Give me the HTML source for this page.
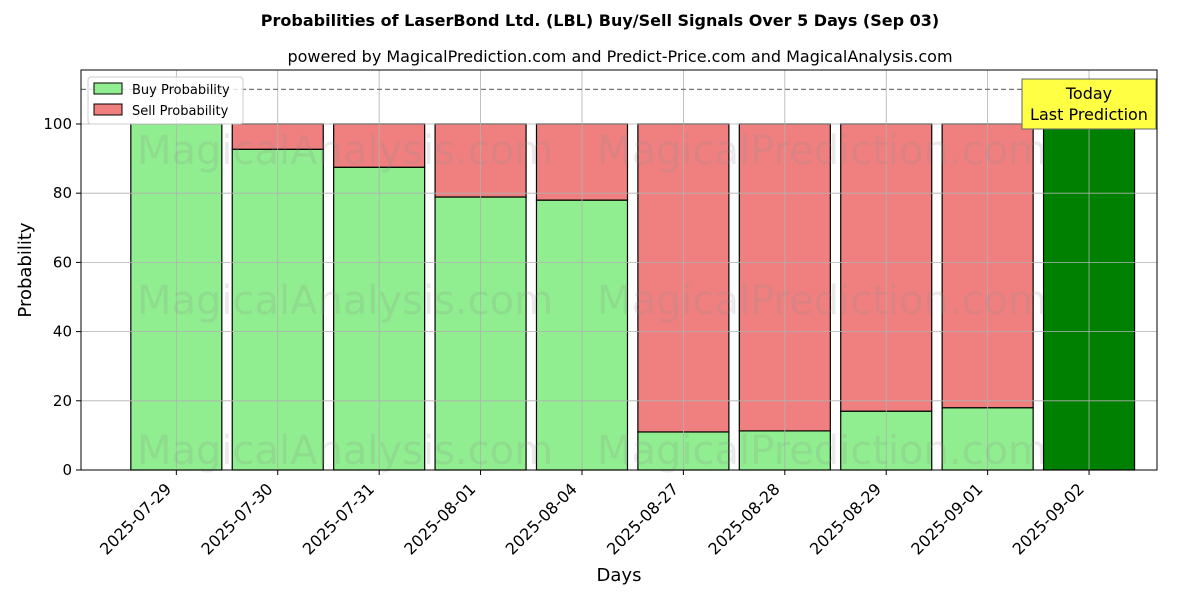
<!DOCTYPE html>
<html><head><meta charset="utf-8"><style>
body{margin:0;background:#fff;font-family:"Liberation Sans","DejaVu Sans",sans-serif;}
</style></head><body>
<svg id="chart" width="1200" height="600" xmlns="http://www.w3.org/2000/svg" font-family="DejaVu Sans, Liberation Sans, sans-serif">
<rect width="1200" height="600" fill="#fff"/>
<text x="600" y="26" text-anchor="middle" font-size="16" font-weight="bold">Probabilities of LaserBond Ltd. (LBL) Buy/Sell Signals Over 5 Days (Sep 03)</text>
<text x="620" y="62" text-anchor="middle" font-size="16">powered by MagicalPrediction.com and Predict-Price.com and MagicalAnalysis.com</text>
<g id="bars"></g><g id="grid"></g><g id="wm"></g>
<rect x="81" y="70" width="1076" height="400" fill="none" stroke="#000"/>
<g id="axes"></g>
<text transform="translate(31,270) rotate(-90)" text-anchor="middle" font-size="18">Probability</text>
<text x="619" y="581" text-anchor="middle" font-size="18">Days</text>
<g>
<rect x="88" y="77" width="155" height="47" fill="#fff" fill-opacity="0.8" stroke="#ccc" rx="3"/>
<rect x="94" y="83" width="28" height="11" fill="#90ee90" stroke="#000"/>
<text x="132" y="94" font-size="13">Buy Probability</text>
<rect x="94" y="104" width="28" height="11" fill="#f08080" stroke="#000"/>
<text x="132" y="115" font-size="13">Sell Probability</text>
</g>
<g>
<rect x="1022" y="79" width="134" height="50" fill="#ffff44" stroke="#666"/>
<text x="1089" y="99" text-anchor="middle" font-size="16">Today</text>
<text x="1089" y="120" text-anchor="middle" font-size="16">Last Prediction</text>
</g>
</svg>
<script>
const categories=["2025-07-29","2025-07-30","2025-07-31","2025-08-01","2025-08-04","2025-08-27","2025-08-28","2025-08-29","2025-09-01","2025-09-02"];
const buyValues=[100,92.7,87.5,78.9,78,11,11.3,17,18,100];
const sellValues=[0,7.3,12.5,21.1,22,89,88.7,83,82,0];
const yTicks=[0,20,40,60,80,100];
const ns="http://www.w3.org/2000/svg";
const L=81,R=1157,T=70,B=470,xmin=-0.94,xmax=9.67,ymax=115.6;
const xs=i=>L+(i-xmin)/(xmax-xmin)*(R-L);
const ys=v=>B-v/ymax*(B-T);
const bw=(91/101.4);
function mk(p,t,a){const e=document.createElementNS(ns,t);for(const k in a)e.setAttribute(k,a[k]);document.getElementById(p).appendChild(e);return e;}
yTicks.forEach(v=>{
 const l=mk('grid','line',{x1:L,x2:R,y1:ys(v),y2:ys(v),stroke:'#b0b0b0','stroke-width':0.8});
 
 mk('axes','line',{x1:L-5,x2:L,y1:ys(v),y2:ys(v),stroke:'#000'});
 const t=mk('axes','text',{x:L-9,y:ys(v)+5,'text-anchor':'end','font-size':15});t.textContent=v;
 
});
categories.forEach((c,i)=>{
 const x=xs(i);
 const g=mk('grid','line',{x1:x,x2:x,y1:T,y2:B,stroke:'#b0b0b0','stroke-width':0.8});
 
 const w=bw*(xs(1)-xs(0));
 const last=i===categories.length-1;
 const b=mk('bars','rect',{x:x-w/2,y:ys(buyValues[i]),width:w,height:ys(0)-ys(buyValues[i]),fill:last?'#008000':'#90ee90',stroke:'#000','stroke-width':1.2});
 
 if(sellValues[i]>0){
  const s=mk('bars','rect',{x:x-w/2,y:ys(buyValues[i]+sellValues[i]),width:w,height:ys(buyValues[i])-ys(buyValues[i]+sellValues[i]),fill:'#f08080',stroke:'#000','stroke-width':1.2});
  
 }
 mk('axes','line',{x1:x,x2:x,y1:B,y2:B+5,stroke:'#000'});
 const t=mk('axes','text',{transform:`translate(${x-4},${B+20}) rotate(-45)`,'text-anchor':'end','font-size':16});t.textContent=c;
 
});
const d=mk('grid','line',{x1:L,x2:R,y1:ys(110),y2:ys(110),stroke:'#777','stroke-dasharray':'5,3','stroke-width':1.2});

[[345,150,'MagicalAnalysis.com'],[822,150,'MagicalPrediction.com'],[345,300,'MagicalAnalysis.com'],[822,300,'MagicalPrediction.com'],[345,450,'MagicalAnalysis.com'],[822,450,'MagicalPrediction.com']].forEach(w=>{
 const t=mk('wm','text',{x:w[0],y:w[1]+14,'text-anchor':'middle','font-size':40,fill:'#888','fill-opacity':0.18});t.textContent=w[2];
 
});
</script>
</body></html>
